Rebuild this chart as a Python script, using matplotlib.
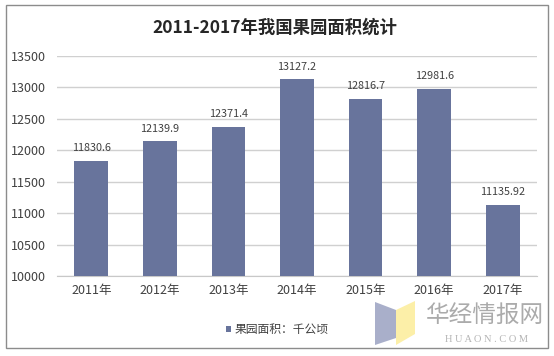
import matplotlib
matplotlib.use('Agg')
import matplotlib.pyplot as plt
from matplotlib.patches import Rectangle, Polygon

plt.rcParams['font.family'] = ['Noto Sans CJK SC', 'DejaVu Sans']

# data
years = ['2011年', '2012年', '2013年', '2014年', '2015年', '2016年', '2017年']
area = [11830.6, 12139.9, 12371.4, 13127.2, 12816.7, 12981.6, 11135.92]
area_labels = ['11830.6', '12139.9', '12371.4', '13127.2', '12816.7', '12981.6', '11135.92']
yticks = [10000, 10500, 11000, 11500, 12000, 12500, 13000, 13500]

W, H = 554, 356
bar_color = '#68749c'
text_color = '#404040'

fig = plt.figure(figsize=(W / 100, H / 100), dpi=100)
ax = fig.add_axes([57 / W, 1 - 276 / H, 480 / W, 220 / H])

x = list(range(len(years)))
bars = ax.bar(x, [v - 10000 for v in area], bottom=10000, width=0.49,
              color=bar_color, zorder=3, label='果园面积：千公顷')

for xi, v, lab in zip(x, area, area_labels):
    ax.text(xi, v + 120, lab, ha='center', va='bottom', fontsize=7.8,
            color=text_color, zorder=4)

ax.set_xlim(-0.5, len(years) - 0.5)
ax.set_ylim(10000, 13500)
ax.set_yticks(yticks)
ax.set_yticklabels([str(t) for t in yticks], fontsize=9, color=text_color)
ax.set_xticks(x)
ax.set_xticklabels(years, fontsize=9, color=text_color)
ax.tick_params(axis='both', length=0)
ax.tick_params(axis='y', pad=8)
ax.tick_params(axis='x', pad=6)
ax.grid(axis='y', color='#d0d0d0', linewidth=1, zorder=0)
for s in ['top', 'right', 'left']:
    ax.spines[s].set_visible(False)
ax.spines['bottom'].set_color('#c8c8c8')

fig.text(275 / W, 1 - 28 / H, '2011-2017年我国果园面积统计', ha='center', va='center',
         fontsize=12.5, fontweight='bold', color='#262626')

handles, labels = ax.get_legend_handles_labels()
fig.legend(handles, labels, loc='center', bbox_to_anchor=(0.5, 1 - 330 / H),
           frameon=False, fontsize=8.5, handlelength=0.45, handleheight=0.45,
           handletextpad=0.3, labelcolor=text_color)

# outer frame
fig.add_artist(Rectangle((6 / W, 1 - 348 / H), 542 / W, 343 / H, fill=False,
                         edgecolor='#8c8c8c', linewidth=1, transform=fig.transFigure))

# watermark
def fpt(px, py):
    return (px / W, 1 - py / H)

fig.add_artist(Polygon([fpt(375, 302), fpt(396, 310), fpt(396, 338), fpt(375, 345)],
                       closed=True, facecolor='#a9afca', edgecolor='none',
                       transform=fig.transFigure))
fig.add_artist(Polygon([fpt(396, 310), fpt(415, 301), fpt(415, 334), fpt(396, 345)],
                       closed=True, facecolor='#fcefa8', edgecolor='none',
                       transform=fig.transFigure))
fig.text(485 / W, 1 - 315 / H, '华经情报网', ha='center', va='center',
         fontsize=17, color='#ababab')
fig.text(487 / W, 1 - 340 / H, 'H U A O N . C O M', ha='center', va='center',
         fontsize=7.5, color='#b4b4b4', family='Liberation Serif')

fig.savefig('out.png', dpi=100)
